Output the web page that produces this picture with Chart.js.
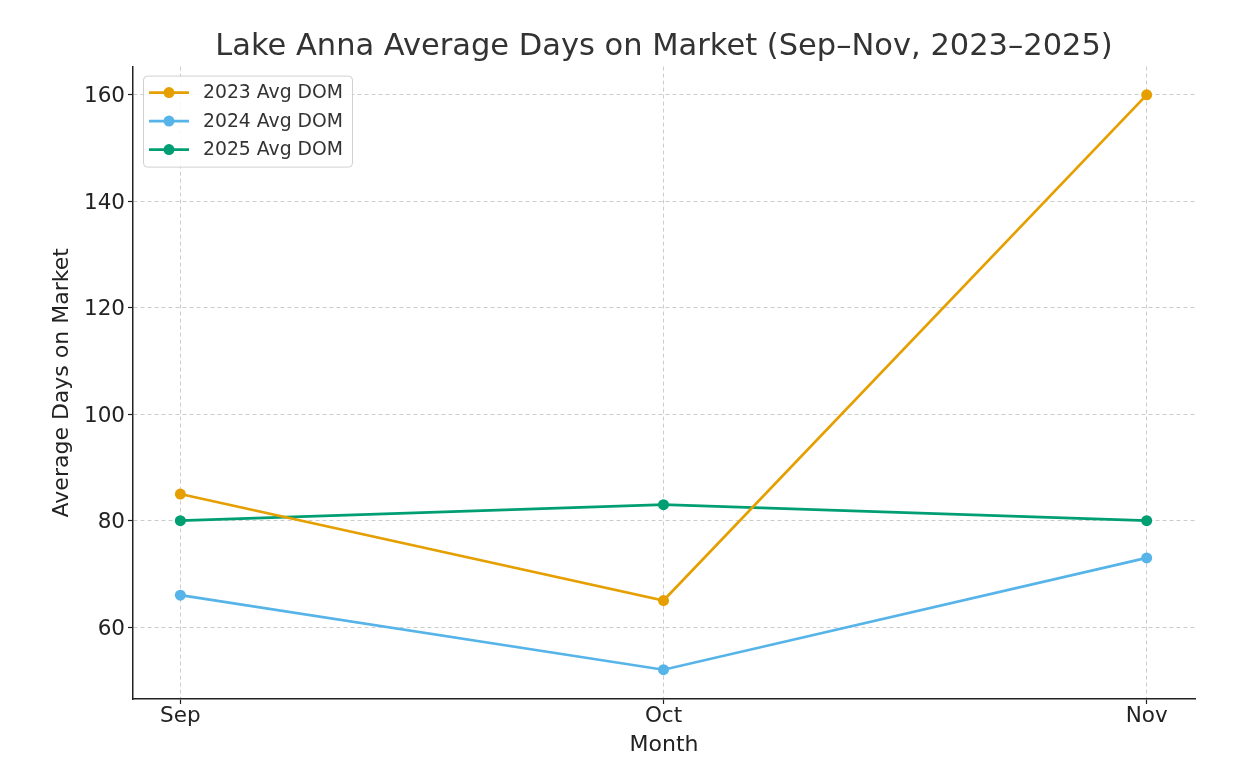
<!DOCTYPE html>
<html>
<head>
<meta charset="utf-8">
<script src="https://cdn.jsdelivr.net/npm/chart.js@4"></script>
<style>
  html, body { margin: 0; padding: 0; background: #fff; }
</style>
</head>
<body>
<canvas id="chart" width="1250" height="768"></canvas>
<script>
var months = ["Sep", "Oct", "Nov"];
var dom2023 = [85, 65, 160];
var dom2024 = [66, 52, 73];
var dom2025 = [80, 83, 80];
var yTicks = [60, 80, 100, 120, 140, 160];

const toPoints = (arr) => arr.map((v, i) => ({x: i, y: v}));

const serie = (label, cor, valores) => ({
  label: label,
  data: toPoints(valores),
  borderColor: cor,
  backgroundColor: cor,
  borderWidth: 2.7,
  pointRadius: 5.5,
  pointHoverRadius: 5.5,
  pointBorderWidth: 0,
  tension: 0,
  fill: false
});

// legend drawn inside the plot, top-left, like the original
const legendaDentro = {
  id: "legendaDentro",
  afterDraw(chart) {
    const ctx = chart.ctx;
    const a = chart.chartArea;
    const x0 = a.left + 10, y0 = a.top + 9;
    const w = 209, h = 91;
    ctx.save();
    ctx.fillStyle = "rgba(255,255,255,0.85)";
    ctx.strokeStyle = "#d0d0d0";
    ctx.lineWidth = 1;
    ctx.beginPath();
    ctx.roundRect(x0 + 0.5, y0 + 0.5, w, h, 4);
    ctx.fill();
    ctx.stroke();
    ctx.font = "18.8px 'DejaVu Sans'";
    ctx.textBaseline = "middle";
    chart.data.datasets.forEach((ds, i) => {
      const yy = y0 + 17 + i * 28.5;
      ctx.strokeStyle = ds.borderColor;
      ctx.lineWidth = 2.7;
      ctx.beginPath();
      ctx.moveTo(x0 + 6, yy);
      ctx.lineTo(x0 + 46, yy);
      ctx.stroke();
      ctx.fillStyle = ds.borderColor;
      ctx.beginPath();
      ctx.arc(x0 + 26, yy, 5.5, 0, Math.PI * 2);
      ctx.fill();
      ctx.fillStyle = "#333";
      ctx.fillText(ds.label, x0 + 60, yy + 1);
    });
    ctx.restore();
  }
};

new Chart("chart", {
  type: "line",
  data: {
    datasets: [
      serie("2023 Avg DOM", "#E69F00", dom2023),
      serie("2024 Avg DOM", "#56B4E9", dom2024),
      serie("2025 Avg DOM", "#009E73", dom2025)
    ]
  },
  options: {
    responsive: false,
    animation: false,
    layout: {padding: {top: 0, left: 0, right: 55, bottom: 0}},
    plugins: {
      legend: {display: false},
      tooltip: {enabled: false},
      title: {
        display: true,
        fullSize: false,
        text: "Lake Anna Average Days on Market (Sep–Nov, 2023–2025)",
        color: "#333",
        font: {family: "DejaVu Sans", size: 30.5, weight: "normal"},
        padding: {top: 29, bottom: 1}
      }
    },
    scales: {
      x: {
        type: "linear",
        min: -0.098,
        max: 2.1,
        afterBuildTicks: (s) => { s.ticks = months.map((m, i) => ({value: i})); },
        afterFit: (s) => { s.height = 69; },
        ticks: {
          callback: (v) => months[v],
          color: "#222",
          font: {family: "DejaVu Sans", size: 21.5},
          padding: 0,
          maxRotation: 0
        },
        grid: {
          color: "#cccccc",
          lineWidth: 1,
          tickColor: "#222",
          tickLength: 5,
          tickWidth: 1.2,
          tickBorderDash: []
        },
        border: {display: true, color: "#222", width: 1.5, dash: [4, 3]},
        title: {
          display: true,
          text: "Month",
          color: "#222",
          font: {family: "DejaVu Sans", size: 22},
          padding: {top: 0, bottom: 10}
        }
      },
      y: {
        min: 46.5,
        max: 165.3,
        afterBuildTicks: (s) => { s.ticks = yTicks.map((v) => ({value: v})); },
        afterFit: (s) => { s.width = 133; },
        ticks: {
          color: "#222",
          font: {family: "DejaVu Sans", size: 21.5},
          padding: 3,
          labelOffset: 2
        },
        grid: {
          color: "#cccccc",
          lineWidth: 1,
          tickColor: "#222",
          tickLength: 5,
          tickWidth: 1.2,
          tickBorderDash: []
        },
        border: {display: true, color: "#222", width: 1.5, dash: [4, 3]},
        title: {
          display: true,
          text: "Average Days on Market",
          color: "#222",
          font: {family: "DejaVu Sans", size: 22},
          padding: {top: 49, bottom: 0}
        }
      }
    }
  },
  plugins: [legendaDentro]
});
</script>
</body>
</html>
